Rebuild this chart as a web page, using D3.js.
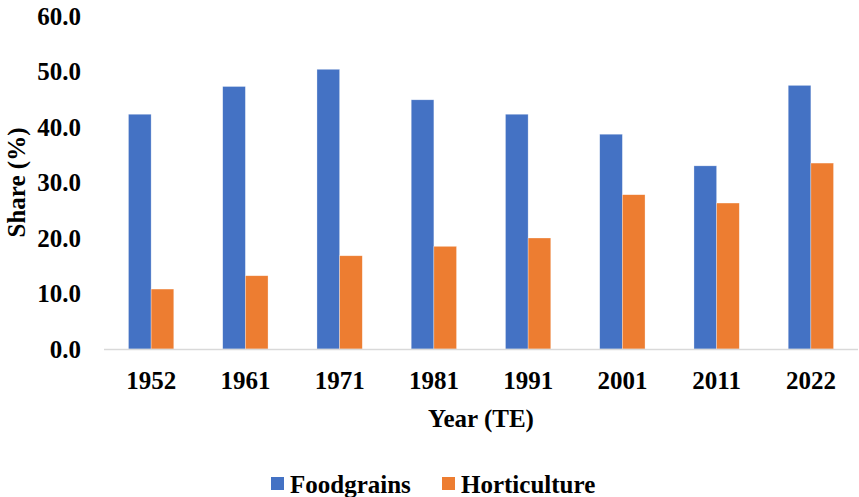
<!doctype html>
<html lang="en">
<head>
  <meta charset="utf-8">
  <title>Share of foodgrains and horticulture</title>
  <style>
  body { margin: 0; background: #fff; }
  </style>
</head>
<body>
  <div id="chart"></div>
  <script src="https://cdn.jsdelivr.net/npm/d3@7"></script>
  <script>
    var years = ["1952", "1961", "1971", "1981", "1991", "2001", "2011", "2022"];
    var foodgrains = [42.3, 47.3, 50.4, 44.9, 42.3, 38.7, 33.0, 47.5];
    var horticulture = [10.8, 13.2, 16.8, 18.5, 20.0, 27.8, 26.3, 33.5];
    var yTicks = [0, 10, 20, 30, 40, 50, 60];
    var seriesNames = ["Foodgrains", "Horticulture"];
    var colors = ["#4472C4", "#ED7D31"];

    var width = 859, height = 497;
    var margin = {left: 104, right: 1, top: 16, bottom: 148};
    var font = "'Liberation Serif', 'Times New Roman', Tinos, serif";
    var fs = 25;

    var svg = d3.select("#chart").append("svg")
        .attr("width", width)
        .attr("height", height)
        .attr("font-family", font)
        .attr("font-weight", "bold");

    var x = d3.scaleBand()
        .domain(years)
        .range([margin.left, width - margin.right]);

    var inner = d3.scaleBand()
        .domain(seriesNames)
        .range([0, x.bandwidth()])
        .paddingOuter(1.08);

    var y = d3.scaleLinear()
        .domain([0, 60])
        .range([height - margin.bottom, margin.top]);

    var rows = years.map(function(yr, i) {
      return {year: yr, values: [foodgrains[i], horticulture[i]]};
    });

    var groups = svg.selectAll("g.year")
        .data(rows)
      .enter().append("g")
        .attr("class", "year")
        .attr("transform", function(d) { return "translate(" + x(d.year) + ",0)"; });

    groups.selectAll("rect")
        .data(function(d) {
          return d.values.map(function(v, j) { return {name: seriesNames[j], value: v, c: colors[j]}; });
        })
      .enter().append("rect")
        .attr("x", function(d) { return inner(d.name); })
        .attr("width", inner.bandwidth())
        .attr("y", function(d) { return y(d.value); })
        .attr("height", function(d) { return y(0) - y(d.value); })
        .attr("fill", function(d) { return d.c; })
        .attr("stroke", "#fff")
        .attr("stroke-opacity", 0.5)
        .attr("stroke-width", 0.6);

    // x axis line
    svg.append("line")
        .attr("x1", margin.left).attr("x2", width - margin.right)
        .attr("y1", y(0) + 0.5).attr("y2", y(0) + 0.5)
        .attr("stroke", "#d9d9d9")
        .attr("stroke-width", 1.5);

    // y tick labels
    svg.selectAll("text.ytick")
        .data(yTicks)
      .enter().append("text")
        .attr("class", "ytick")
        .attr("x", 81)
        .attr("y", function(d) { return y(d); })
        .attr("dy", "0.35em")
        .attr("text-anchor", "end")
        .attr("font-size", fs)
        .text(function(d) { return d3.format(".1f")(d); });

    // x tick labels
    svg.selectAll("text.xtick")
        .data(years)
      .enter().append("text")
        .attr("class", "xtick")
        .attr("x", function(d) { return x(d) + x.bandwidth() / 2; })
        .attr("y", 389)
        .attr("text-anchor", "middle")
        .attr("font-size", fs)
        .text(function(d) { return d; });

    svg.append("text")
        .attr("x", (margin.left + width - margin.right) / 2)
        .attr("y", 427)
        .attr("text-anchor", "middle")
        .attr("font-size", fs)
        .text("Year (TE)");

    svg.append("text")
        .attr("transform", "translate(25," + y(30) + ") rotate(-90)")
        .attr("text-anchor", "middle")
        .attr("font-size", fs)
        .text("Share (%)");

    // legend
    var legend = svg.append("g");
    var legX = [271, 442];
    seriesNames.forEach(function(name, i) {
      legend.append("rect")
          .attr("x", legX[i]).attr("y", 477)
          .attr("width", 13).attr("height", 13)
          .attr("fill", colors[i]);
      legend.append("text")
          .attr("x", legX[i] + 19).attr("y", 493)
          .attr("font-size", fs)
          .text(name);
    });
  </script>
</body>
</html>
